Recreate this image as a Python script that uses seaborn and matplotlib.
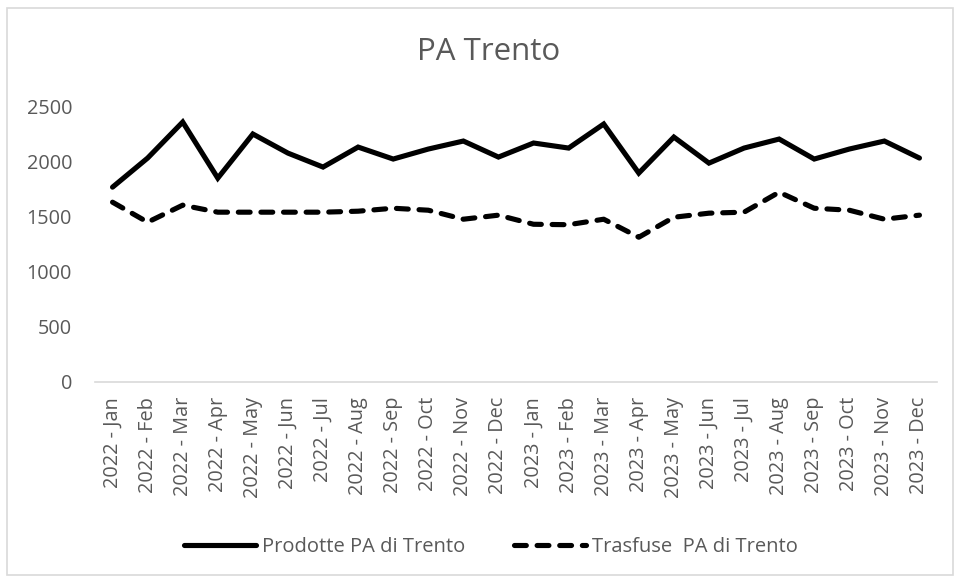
import matplotlib
matplotlib.use("Agg")
import matplotlib.pyplot as plt
import seaborn as sns
import pandas as pd
import numpy as np
from matplotlib.patches import Rectangle

months = ["2022 - Jan", "2022 - Feb", "2022 - Mar", "2022 - Apr", "2022 - May", "2022 - Jun",
          "2022 - Jul", "2022 - Aug", "2022 - Sep", "2022 - Oct", "2022 - Nov", "2022 - Dec",
          "2023 - Jan", "2023 - Feb", "2023 - Mar", "2023 - Apr", "2023 - May", "2023 - Jun",
          "2023 - Jul", "2023 - Aug", "2023 - Sep", "2023 - Oct", "2023 - Nov", "2023 - Dec"]
prodotte = [1770, 2035, 2363, 1852, 2254, 2080, 1953, 2135, 2026, 2117, 2190, 2044,
            2172, 2126, 2345, 1898, 2226, 1989, 2126, 2208, 2026, 2117, 2190, 2035]
trasfuse = [1633, 1451, 1606, 1542, 1542, 1542, 1542, 1551, 1578, 1560, 1478, 1515,
            1432, 1428, 1478, 1314, 1496, 1533, 1542, 1724, 1578, 1560, 1478, 1515]
series_names = ["Prodotte PA di Trento", "Trasfuse  PA di Trento"]
yticks = [0, 500, 1000, 1500, 2000, 2500]

sns.set_theme(style="white")
plt.rcParams['font.family'] = ['Open Sans', 'DejaVu Sans']

fig = plt.figure(figsize=(9.61, 5.81), dpi=100)
ax = fig.add_axes([95/961, 1-381.5/581, (937-95)/961, (381.5-107)/581])

df = pd.DataFrame({"pos": np.arange(len(months)), "prod": prodotte, "tras": trasfuse})
sns.lineplot(data=df, x="pos", y="prod", ax=ax, color="black", linewidth=3.7,
             label=series_names[0], solid_capstyle="round", solid_joinstyle="miter")
sns.lineplot(data=df, x="pos", y="tras", ax=ax, color="black", linewidth=3.7,
             label=series_names[1])
ln = ax.get_lines()[1]
ln.set_dashes((2.3, 2.1))
ln.set_dash_capstyle("round")

ax.set_xlim(-0.5, len(months) - 0.5)
ax.set_ylim(0, 2500)
ax.set_yticks(yticks)
ax.set_yticklabels([str(v) for v in yticks])
ax.set_xticks(range(len(months)))
ax.set_xticklabels(months, rotation=90)
ax.tick_params(axis="both", length=0, colors="#595959", labelsize=14.3)
ax.tick_params(axis="y", pad=16.5)
ax.tick_params(axis="x", pad=11)
ax.set_xlabel("")
ax.set_ylabel("")
for s in ["top", "right", "left"]:
    ax.spines[s].set_visible(False)
ax.spines["bottom"].set_color("#d9d9d9")
ax.spines["bottom"].set_linewidth(1.2)

fig.text(0.508, 1-52/581, "PA Trento", ha="center", va="center", fontsize=22.5,
         color="#595959")

leg = ax.legend(loc="center", bbox_to_anchor=(491/961, 1-547/581), bbox_transform=fig.transFigure,
                ncol=2, frameon=False, handlelength=3.6, handletextpad=0.3, columnspacing=2.4,
                prop={"size": 14.5})
for t in leg.get_texts():
    t.set_color("#595959")

fig.patches.append(Rectangle((7/961, 1-575/581), (953-7)/961, (575-8)/581, transform=fig.transFigure,
                             fill=False, edgecolor="#d9d9d9", linewidth=1.2))

fig.savefig("out.png", dpi=100)
